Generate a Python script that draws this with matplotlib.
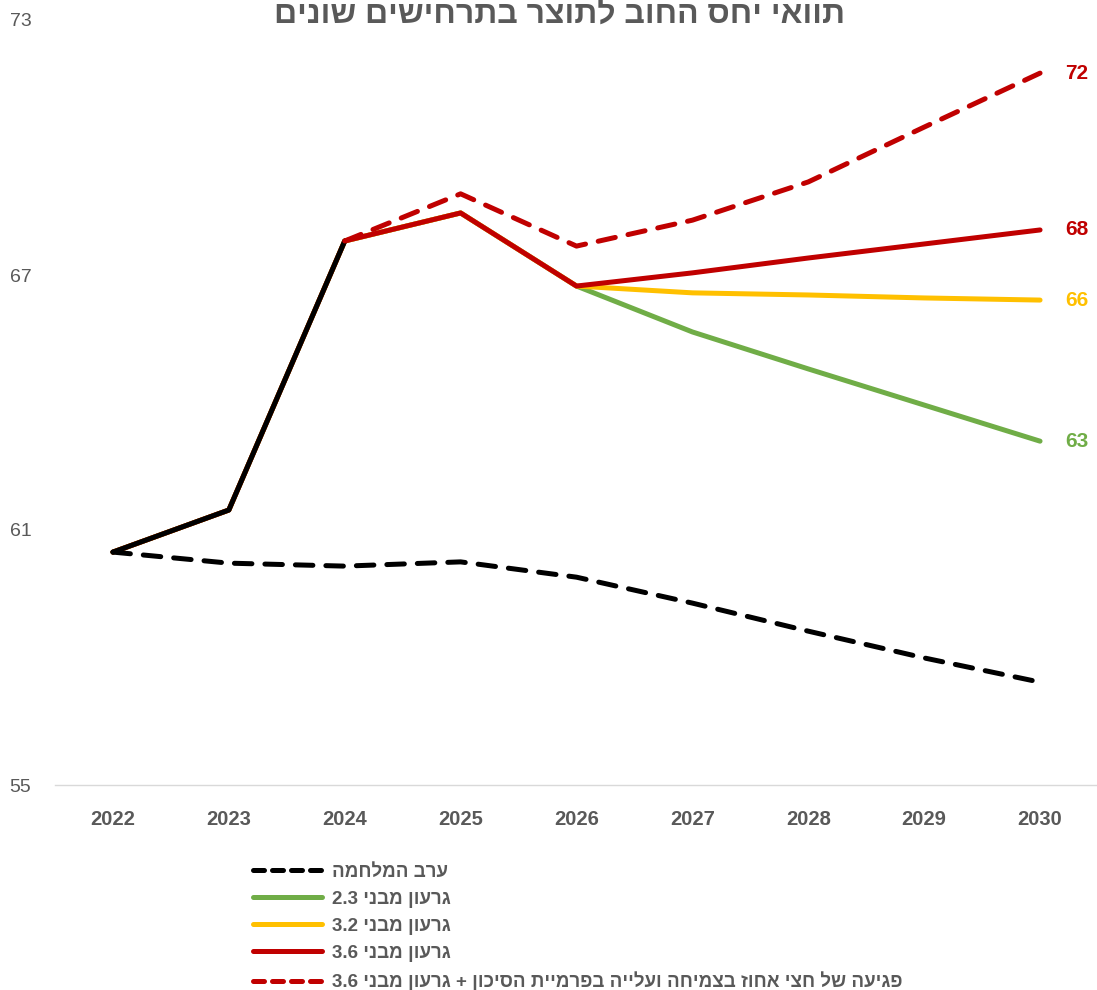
import matplotlib
matplotlib.use("Agg")
import matplotlib.pyplot as plt
from matplotlib.lines import Line2D

plt.rcParams['font.family'] = ['Liberation Sans Narrow', 'Liberation Sans', 'DejaVu Sans']

years = ['2022', '2023', '2024', '2025', '2026', '2027', '2028', '2029', '2030']
actual = [60.48, 61.47, 67.8]
green = [60.48, 61.47, 67.8, 68.46, 66.74, 65.66, 64.79, 63.94, 63.09]
yellow = [60.48, 61.47, 67.8, 68.46, 66.74, 66.58, 66.53, 66.46, 66.41]
red = [60.48, 61.47, 67.8, 68.46, 66.74, 67.05, 67.40, 67.73, 68.06]
red_dashed = [67.8, 68.91, 67.68, 68.29, 69.19, 70.48, 71.75]
prewar = [60.48, 60.22, 60.15, 60.25, 59.89, 59.28, 58.62, 57.99, 57.42]
end_labels = ['72', '68', '66', '63']
yticks = [55, 61, 67, 73]

title = 'תוואי יחס החוב לתוצר בתרחישים שונים'
leg_labels = ['ערב המלחמה', 'גרעון מבני 2.3', 'גרעון מבני 3.2', 'גרעון מבני 3.6',
              'פגיעה של חצי אחוז בצמיחה ועלייה בפרמיית הסיכון + גרעון מבני 3.6']


def vis(s):
    # convert logical Hebrew string to visual order (number at end moves to left)
    parts = s.rsplit(' ', 1)
    if len(parts) == 2 and any(c.isdigit() for c in parts[1]):
        return parts[1] + ' ' + parts[0][::-1]
    return s[::-1]


GREEN = '#70AD47'
YELLOW = '#FFC000'
RED = '#C00000'
GRAY = '#595959'

fig = plt.figure(figsize=(10.97, 9.9), dpi=100)
ax = fig.add_axes([55 / 1097, 1 - 785 / 990, 1043 / 1097, 765 / 990])

x = list(range(len(years)))
lw = 3.6
ax.plot(x, green, color=GREEN, lw=lw, solid_capstyle='round')
ax.plot(x, yellow, color=YELLOW, lw=lw, solid_capstyle='round')
ax.plot(x, red, color=RED, lw=lw, solid_capstyle='round')
ax.plot(x[:3], actual, color='black', lw=lw, solid_capstyle='round')
ax.plot(x[2:], red_dashed, color=RED, lw=lw, dashes=(3.5, 2.6), dash_capstyle='round')
ax.plot(x, prewar, color='black', lw=lw, dashes=(3.5, 2.6), dash_capstyle='round')

ends = [(red_dashed[-1], RED), (red[-1], RED), (yellow[-1], YELLOW), (green[-1], GREEN)]
for lab, (v, c) in zip(end_labels, ends):
    ax.annotate(lab, (x[-1], v), xytext=(18, 0), textcoords='offset points',
                color=c, fontsize=15, fontweight='bold', va='center', ha='left',
                annotation_clip=False)

ax.set_xlim(-0.5, len(years) - 0.5)
ax.set_ylim(55, 73)
ax.set_yticks(yticks)
ax.set_xticks(x)
ax.set_xticklabels(years, fontsize=14.5, fontweight='bold', color=GRAY)
ax.tick_params(axis='x', length=0, pad=18)
ax.tick_params(axis='y', length=0, pad=17, labelsize=14, labelcolor=GRAY)
for s in ['top', 'right', 'left']:
    ax.spines[s].set_visible(False)
ax.spines['bottom'].set_color('#D9D9D9')
ax.spines['bottom'].set_linewidth(1.0)

fig.text(0.51, 1.0 - 1 / 990, vis(title), ha='center', va='top',
         fontsize=23, fontweight='bold', color=GRAY)

handles = [
    Line2D([], [], color='black', lw=lw, dashes=(2.2, 1.6), dash_capstyle='round'),
    Line2D([], [], color=GREEN, lw=lw, solid_capstyle='round'),
    Line2D([], [], color=YELLOW, lw=lw, solid_capstyle='round'),
    Line2D([], [], color=RED, lw=lw, solid_capstyle='round'),
    Line2D([], [], color=RED, lw=lw, dashes=(2.2, 1.6), dash_capstyle='round'),
]
leg = fig.legend(handles, [vis(l) for l in leg_labels], loc='upper left',
                 bbox_to_anchor=(236 / 1097, 1 - 847 / 990), frameon=False,
                 handlelength=3.7, handletextpad=0.5, labelspacing=0.52,
                 prop={'size': 13.5, 'weight': 'bold'})
for t in leg.get_texts():
    t.set_color(GRAY)

fig.savefig('out.png', dpi=100)
